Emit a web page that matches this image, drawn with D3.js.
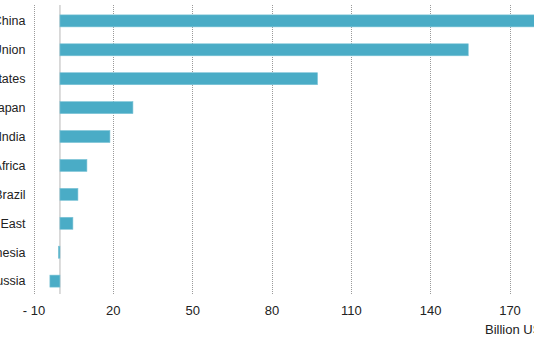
<!DOCTYPE html>
<html>
<head>
<meta charset="utf-8">
<script src="https://cdn.jsdelivr.net/npm/d3@7"></script>
<style>
  html, body { margin: 0; padding: 0; background: #fff; }
  svg { display: block; font-family: "Liberation Sans", Arial, sans-serif; }
</style>
</head>
<body>
<svg id="chart" width="534" height="340"></svg>
<script>
// Regions and their values, in billion USD
const regions = ["China", "European Union", "United States", "Japan", "India",
  "South Africa", "Brazil", "Middle East", "Indonesia", "Russia"];
const values = [185, 154.4, 97.4, 27.6, 18.9, 10.2, 6.8, 4.9, -0.6, -3.8];
const tickValues = [-10, 20, 50, 80, 110, 140, 170];
const unitLabel = "Billion USD";

const svg = d3.select("#chart");

// x: value scale, zero sits at x=60
const x = d3.scaleLinear().domain([-10, 170]).range([33.5, 509.5]);
const y = d3.scaleBand().domain(regions).range([6.5, 295.5]).paddingInner(0.585).paddingOuter(0.29);

// dotted gridlines
svg.append("g").selectAll("line").data(tickValues).join("line")
  .attr("x1", d => Math.round(x(d)) + 0.5).attr("x2", d => Math.round(x(d)) + 0.5)
  .attr("y1", 5).attr("y2", 294)
  .attr("stroke", "#9a9a9a").attr("stroke-width", 1).attr("stroke-dasharray", "1,1");

// zero line
svg.append("line")
  .attr("x1", x(0)).attr("x2", x(0)).attr("y1", 5).attr("y2", 294)
  .attr("stroke", "#cfcfcf").attr("stroke-width", 1.5);

// bars
const barH = 12;
svg.append("g").selectAll("rect").data(regions).join("rect")
  .attr("x", (d, i) => x(Math.min(0, values[i])))
  .attr("width", (d, i) => Math.abs(x(values[i]) - x(0)))
  .attr("y", d => y(d) + y.bandwidth() / 2 - barH / 2)
  .attr("height", barH)
  .attr("fill", "#4aacc6")
  .attr("stroke", "#7cc3d6").attr("stroke-width", 0.6);

// category labels
svg.append("g").selectAll("text").data(regions).join("text")
  .attr("x", 25.5)
  .attr("y", d => y(d) + y.bandwidth() / 2)
  .attr("dy", "0.35em")
  .attr("text-anchor", "end")
  .attr("font-size", 12.5)
  .attr("fill", "#222")
  .text(d => d);

// x-axis tick labels
const xAxis = d3.axisBottom(x).tickValues(tickValues).tickSize(0).tickPadding(0)
  .tickFormat(d => d < 0 ? "- " + Math.abs(d) : String(d));
const gx = svg.append("g").attr("transform", "translate(0,306)").call(xAxis);
gx.select(".domain").remove();
gx.selectAll("text")
  .attr("font-size", 13)
  .attr("font-family", "'Liberation Sans', Arial, sans-serif")
  .attr("fill", "#222");

// unit label
svg.append("text")
  .attr("x", 485).attr("y", 334)
  .attr("font-size", 13)
  .attr("fill", "#222")
  .text(unitLabel);
</script>
</body>
</html>
